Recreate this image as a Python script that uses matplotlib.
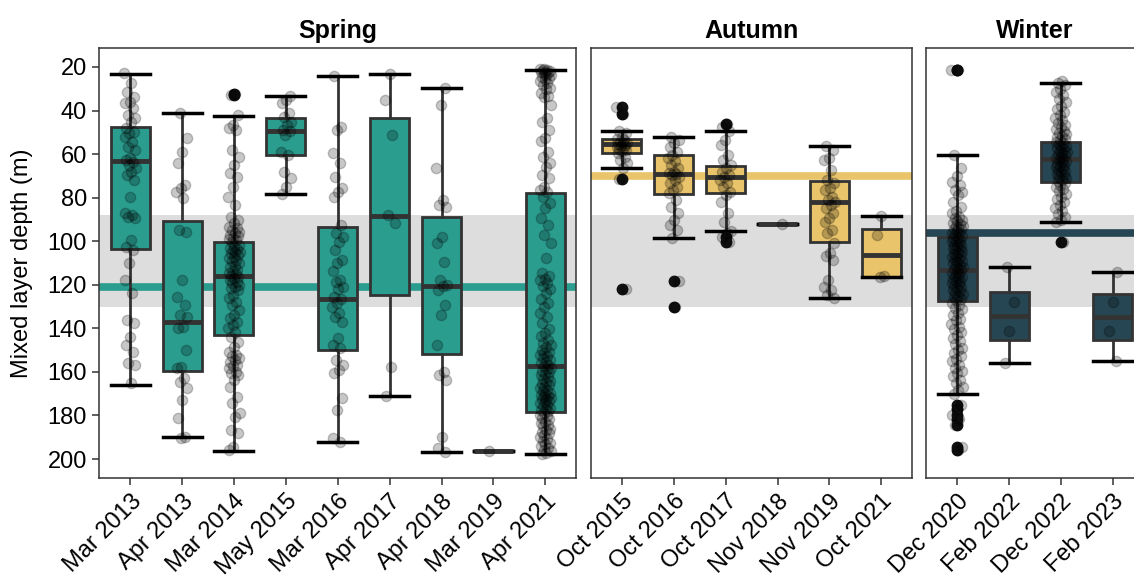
import numpy as np
import matplotlib.pyplot as plt
from matplotlib.transforms import ScaledTranslation

plt.rcParams['font.family'] = ['Liberation Sans', 'DejaVu Sans']

# shared reference band (m)
band_lo, band_hi = 88, 130

# ---- Spring ----
spring_labels = ['Mar 2013', 'Apr 2013', 'Mar 2014', 'May 2015', 'Mar 2016',
                 'Apr 2017', 'Apr 2018', 'Mar 2019', 'Apr 2021']
spring_whislo = [23.4, 41.3, 42.3, 33.5, 24.3, 23.4, 29.5, 196.2, 21.4]
spring_q1 = [47.7, 90.7, 100.2, 43.3, 93.5, 43.3, 88.7, 196.2, 77.7]
spring_med = [63.2, 137.1, 116.0, 49.4, 126.4, 88.4, 120.6, 196.2, 157.1]
spring_q3 = [103.7, 159.4, 143.2, 60.4, 150.1, 124.5, 151.8, 196.2, 178.3]
spring_whishi = [166.1, 189.9, 196.2, 78.2, 192.3, 171.2, 196.9, 196.2, 197.8]
spring_fliers = [[], [], [32.4, 33.0], [], [], [], [], [], []]
spring_ref = 121

mar2013 = [22.9, 27.5, 31.3, 33.6, 35.9, 36.7, 39, 42, 43.6, 45.1, 48.2, 49.7, 50.5,
           52, 54.3, 56.6, 58.1, 62, 62.7, 63.5, 65, 66.5, 68, 69.6, 71.9, 79.5, 87.2,
           88, 88.7, 89.5, 99.4, 102.5, 104, 110, 117.8, 123.9, 136.2, 137.7, 143.8,
           147.6, 150.7, 156, 156.8, 165.2]
apr2013 = [41.3, 52.7, 58.9, 64.2, 74.2, 75.7, 77.2, 80.3, 94.8, 95.6, 117.8, 125.4,
           129.2, 133.8, 134.6, 139.2, 139.9, 149.9, 157.6, 158.3, 162.9, 164.4, 167.5,
           172.8, 181.3, 189.7, 190.4]
mar2014 = [32.4, 33.0, 42, 46.6, 48.2, 48.9, 58.1, 61.2, 65, 68.8, 70.3, 74.9, 79.5,
           83.3, 88.7, 90.2, 91.8, 93.3, 94, 94.8, 95.6, 96, 97.1, 97.8, 98.6, 99, 99.5,
           100.2, 101.7, 102, 103.2, 103.8, 104, 104.8, 105, 105.5, 106.3, 107.1, 107.5,
           108.6, 109, 110.1, 111.6, 112, 113.2, 113.9, 114.7, 115, 116, 116.2, 117,
           117.8, 118.5, 119.3, 120, 120.8, 121.5, 122.4, 124.7, 126.2, 127.7, 129.2,
           131.5, 133.8, 135.4, 136.9, 138.4, 139.9, 141.5, 143.8, 146.1, 148.4, 150.7,
           152.2, 152.9, 153.8, 154.6, 155.3, 156.8, 157.5, 158.3, 159.9, 160.4, 161.4,
           163.7, 166.7, 171.3, 174.4, 179, 180.5, 186.6, 188.2, 194.3, 195.8]
may2015 = [33.5, 35.2, 36.7, 41.3, 42.8, 45.1, 46.6, 48.9, 49.4, 51.2, 58.9, 60.4, 68,
           71.1, 74.9, 78.2]
mar2016 = [24.3, 47.4, 48.9, 59.6, 64.2, 70.3, 75.7, 77.2, 79.5, 92.5, 96.4, 98, 100.2,
           104, 108.6, 110.1, 113.9, 117.8, 118.5, 120.8, 122, 125.4, 126.4, 128.5, 130,
           133.1, 134.6, 137, 144.5, 147.6, 149.1, 154.5, 156.8, 159.1, 160.6, 172.1,
           177.4, 190.4, 192.3]
apr2017 = [23.4, 35.2, 51.2, 87.9, 91.8, 157.6, 171.2]
apr2018 = [29.5, 37.4, 66.5, 81, 83.3, 84.1, 97.9, 100.9, 109.4, 117.8, 120.1, 120.6,
           122.4, 129.2, 133.8, 147.6, 159.9, 161.4, 163.7, 189.7, 195, 196.9]
mar2019 = [196.2]
apr2021 = [20.8, 21.1, 21.4, 21.6, 21.9, 22.3, 22.4, 22.8, 23.1, 23.6, 23.8, 24.4, 24.9,
           25.7, 26.3, 27.5, 28.4, 29.6, 30.3, 31.9, 33.2, 33.8, 37.4, 43.6, 45.2, 48.9,
           52.7, 54.1, 58.9, 61.3, 64.2, 66.1, 69.6, 71.0, 74.9, 76.4, 77.2, 79.5, 82.6,
           84.9, 89.5, 92.4, 97.2, 100.9, 107.8, 114.7, 116.1, 117.2, 117.8, 119.4, 120.6,
           122.1, 123.9, 126.3, 128.5, 130.2, 133.1, 134.7, 137.7, 140.3, 142.3, 143.5,
           145.3, 146.9, 147.8, 148.5, 149.8, 150.7, 151.3, 152.3, 152.9, 153.8, 154.4,
           155.3, 155.9, 156.7, 157.2, 158.2, 158.7, 159.6, 160.2, 161.1, 161.6, 162.5,
           163.1, 164.0, 164.5, 165.5, 166.0, 167.0, 167.5, 168.4, 168.9, 169.8, 170.2,
           170.6, 171.1, 171.4, 171.9, 172.3, 172.6, 173.2, 173.9, 174.3, 175.1, 175.6,
           176.4, 176.8, 177.7, 178.1, 178.9, 179.7, 180.2, 181.2, 181.8, 182.8, 183.3,
           184.3, 185.0, 186.1, 186.7, 187.6, 188.1, 189.1, 189.8, 190.8, 191.5, 192.5,
           193.2, 194.2, 194.9, 195.9, 196.5, 197.2, 197.8]
spring_points = [mar2013, apr2013, mar2014, may2015, mar2016, apr2017, apr2018,
                 mar2019, apr2021]

# ---- Autumn ----
autumn_labels = ['Oct 2015', 'Oct 2016', 'Oct 2017', 'Nov 2018', 'Nov 2019', 'Oct 2021']
autumn_whislo = [49.2, 52.3, 49.2, 92.2, 56.3, 88.4]
autumn_q1 = [53.2, 60.4, 65.5, 92.2, 72.3, 94.2]
autumn_med = [55.5, 69.1, 70.3, 92.2, 81.8, 106.3]
autumn_q3 = [59.6, 78.4, 77.7, 92.2, 100.2, 116.3]
autumn_whishi = [66.2, 98.4, 95.3, 92.2, 126.1, 116.3]
autumn_fliers = [[38.2, 41.6, 71.4, 122.1], [118.1, 130.2], [46.2, 97.9, 100.2],
                 [], [], []]
autumn_ref = 70

oct2015 = [38.2, 41.6, 49.2, 50.4, 52.0, 53.2, 53.6, 54.3, 54.9, 55.0, 55.4, 55.8, 56.2,
           56.6, 57.1, 57.5, 58.1, 58.6, 59.6, 61.2, 62.7, 64.2, 66.2, 71.4, 122.1]
oct2016 = [52.3, 53.5, 55.0, 56.6, 58.9, 60.4, 61.9, 63.4, 65.0, 66.5, 68.0, 68.8, 69.1,
           69.6, 70.3, 71.9, 73.4, 74.9, 76.5, 78.0, 81.0, 84.1, 87.2, 90.2, 92.5, 94.8,
           98.4, 118.1, 130.2]
oct2017 = [46.2, 47.4, 49.2, 53.5, 55.8, 60.4, 62.7, 65.0, 66.5, 68.0, 69.6, 70.3, 71.9,
           73.4, 74.9, 77.2, 78.7, 81.8, 87.2, 91.0, 95.3, 96.3, 97.9, 100.2]
nov2018 = [92.2]
nov2019 = [56.3, 58.1, 61.9, 62.7, 67.3, 71.9, 73.4, 75.7, 76.5, 79.5, 81.0, 81.8, 83.3,
           84.9, 87.2, 89.5, 91.0, 94.8, 96.3, 100.9, 105.5, 107.0, 108.6, 117.8, 120.8,
           122.4, 124.7, 126.1]
oct2021 = [88.4, 97.0, 116.0, 116.5]
autumn_points = [oct2015, oct2016, oct2017, nov2018, nov2019, oct2021]

# ---- Winter ----
winter_labels = ['Dec 2020', 'Feb 2022', 'Dec 2022', 'Feb 2023']
winter_whislo = [60.4, 112.0, 27.5, 114.3]
winter_q1 = [98.2, 123.2, 54.3, 124.2]
winter_med = [113.2, 134.2, 62.2, 134.7]
winter_q3 = [127.4, 145.3, 72.7, 145.3]
winter_whishi = [170.3, 156.0, 91.2, 155.0]
winter_fliers = [[21.4, 21.6, 175.2, 177.0, 179.8, 181.5, 184.5, 194.3, 195.8],
                 [], [100.5], []]
winter_ref = 96

dec2020 = [21.4, 21.6, 60.4, 66.5, 70.0, 72.6, 74.1, 76.5, 77.4, 78.8, 82.0, 84.1, 86.2,
           87.2, 88.7, 89.4, 90.3, 90.8, 91.5, 91.9, 92.8, 93.0, 93.9, 94.2, 94.6, 95.3,
           96.1, 96.4, 97.2, 97.5, 98.3, 98.6, 99.4, 99.7, 100.1, 100.8, 101.6, 101.9,
           102.3, 103.0, 103.8, 104.1, 104.5, 105.2, 106.0, 106.3, 106.7, 107.4, 108.2,
           108.5, 109.3, 109.6, 110.0, 110.7, 111.5, 111.8, 112.6, 112.9, 113.3, 114.0,
           114.8, 115.1, 115.9, 116.2, 116.6, 117.3, 118.1, 118.4, 119.2, 119.6, 120.4,
           120.9, 121.7, 122.2, 123.0, 123.6, 124.2, 125.1, 125.7, 126.5, 127.1, 128.4,
           129.2, 130.5, 131.3, 132.8, 134.0, 135.6, 136.3, 138.0, 139.4, 140.2, 141.9,
           143.1, 144.5, 146.0, 147.2, 148.8, 150.1, 151.5, 152.6, 154.3, 155.0, 156.9,
           158.2, 159.6, 160.4, 162.0, 163.7, 165.1, 166.8, 168.5, 170.3, 175.2, 177.0,
           179.8, 181.5, 184.5, 194.3, 195.8]
feb2022 = [112.0, 128.0, 141.0, 156.0]
dec2022 = [26.5, 27.5, 28.4, 30.2, 31.6, 33.0, 34.8, 36.1, 37.9, 39.5, 40.6, 41.9, 43.3,
           44.5, 45.6, 46.7, 47.5, 48.4, 49.3, 50.1, 50.8, 51.6, 52.3, 53.0, 53.6, 54.3,
           54.9, 55.5, 56.1, 56.7, 57.3, 57.8, 58.4, 59.0, 59.5, 60.1, 60.6, 61.2, 61.7,
           62.2, 62.7, 63.3, 63.8, 64.4, 64.9, 65.5, 66.0, 66.6, 67.2, 67.8, 68.4, 69.0,
           69.7, 70.3, 71.0, 71.7, 72.5, 73.3, 74.1, 75.0, 76.0, 77.1, 78.3, 79.5, 80.6,
           81.9, 83.2, 84.6, 86.0, 87.4, 88.8, 90.1, 91.2, 100.5]
feb2023 = [114.3, 128.0, 141.0, 155.0]
winter_points = [dec2020, feb2022, dec2022, feb2023]

panels = [
    ('Spring', '#2A9D8F', spring_ref, spring_labels, spring_points, spring_whislo,
     spring_q1, spring_med, spring_q3, spring_whishi, spring_fliers),
    ('Autumn', '#E9C46A', autumn_ref, autumn_labels, autumn_points, autumn_whislo,
     autumn_q1, autumn_med, autumn_q3, autumn_whishi, autumn_fliers),
    ('Winter', '#264653', winter_ref, winter_labels, winter_points, winter_whislo,
     winter_q1, winter_med, winter_q3, winter_whishi, winter_fliers),
]

fig = plt.figure(figsize=(11.34, 5.83), dpi=100)
W, H = 1134, 583
unit = 51.9  # px per category
lefts = [99, 590.7, 926]
top_px, bot_px = 48, 478

edge = '#333333'
shift = ScaledTranslation(6 / 100, -3 / 100, fig.dpi_scale_trans)

for i, (title, color, ref, labels, points, lo, q1, med, q3, hi, fl) in enumerate(panels):
    n = len(labels)
    wpx = unit * (n - 1 + 1.2)
    ax = fig.add_axes([lefts[i] / W, 1 - bot_px / H, wpx / W, (bot_px - top_px) / H])

    ax.axhspan(band_lo, band_hi, color='#DDDDDD', lw=0, zorder=0)
    ax.axhline(ref, color=color, lw=5.5, zorder=1)

    stats = []
    for k in range(n):
        stats.append(dict(whislo=lo[k], q1=q1[k], med=med[k], q3=q3[k],
                          whishi=hi[k], fliers=fl[k]))
    ax.bxp(stats, positions=range(n), widths=0.75, capwidths=0.75,
           patch_artist=True, zorder=2,
           boxprops=dict(facecolor=color, edgecolor=edge, linewidth=2),
           medianprops=dict(color=edge, linewidth=3.5),
           whiskerprops=dict(color=edge, linewidth=2),
           capprops=dict(color='black', linewidth=2.5),
           flierprops=dict(marker='o', markerfacecolor='#111111',
                           markeredgecolor='#111111', markersize=7.5))

    for k, vals in enumerate(points):
        m = len(vals)
        # deterministic horizontal jitter
        jit = ((np.arange(m) * 0.618034 + 0.3 * k) % 1 - 0.5) * 0.22
        ax.scatter(k + jit, vals, s=55, color='black', alpha=0.22,
                   linewidths=1.0, zorder=4)

    ax.set_xlim(-0.6, n - 1 + 0.6)
    ax.set_ylim(208.7, 11.3)
    ax.set_xticks(range(n))
    ax.set_xticklabels(labels, rotation=45, ha='right', va='top',
                       rotation_mode='anchor')
    for lab in ax.get_xticklabels():
        lab.set_transform(lab.get_transform() + shift)
    ax.set_title(title, fontsize=18, fontweight='bold', pad=7)
    ax.tick_params(axis='both', direction='out', length=4.8, width=1.1, color=edge,
                   labelsize=17, labelcolor='black', pad=4)
    for s in ax.spines.values():
        s.set_color(edge)
        s.set_linewidth(1.1)
    if i == 0:
        ax.set_yticks([20, 40, 60, 80, 100, 120, 140, 160, 180, 200])
    else:
        ax.set_yticks([])

fig.text(22 / W, 1 - 263 / H, 'Mixed layer depth (m)', rotation=90,
         ha='center', va='center', fontsize=17)

fig.savefig('out.png', dpi=100)
